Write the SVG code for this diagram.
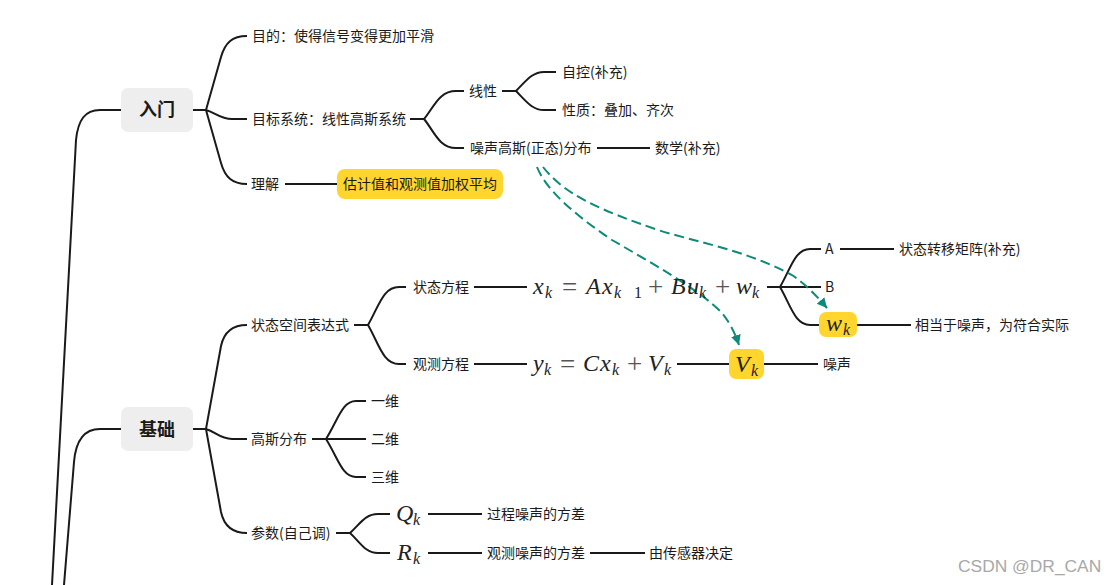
<svg xmlns="http://www.w3.org/2000/svg" width="1115" height="585" viewBox="0 0 1115 585">
<style>
text{font-family:"Noto Sans CJK SC","Liberation Sans",sans-serif;font-size:14px;fill:#1a1a1a}
.main{font-size:18px;font-weight:700;text-anchor:middle}
.m{font-family:"Liberation Serif",serif;font-style:italic;font-size:24px;fill:#222}
.s{font-family:"Liberation Serif",serif;font-style:italic;font-size:16px;fill:#222}
.o{font-family:"Liberation Serif",serif;font-size:27px;fill:#555}
.n{font-family:"Liberation Serif",serif;font-size:16px;fill:#222}
.l{fill:none;stroke:#1a1a1a;stroke-width:2}
.d{fill:none;stroke:#0d8a78;stroke-width:2;stroke-dasharray:10 5}
.bg{fill:#eee}
.y{fill:#ffd52e}
.wm{font-family:"Liberation Sans",sans-serif;font-size:17.4px;fill:#a8a8a8}
</style>
<defs>
<marker id="arrow" markerUnits="userSpaceOnUse" markerWidth="12" markerHeight="12" refX="10" refY="5" orient="auto"><path d="M0 0L10 5L0 10Z" fill="#0d8a78"/></marker>
</defs>
<rect width="1115" height="585" fill="#fff"/>
<g id="connectors">
<path class="l" d="M121 110H100C85 110 78 120 76 140L52 585"/>
<path class="l" d="M121 429H100C86 429 76 438 74 462L64 585"/>
<path class="l" d="M193 110H206L221 57C225 43 232 36 247 36M206 110C216 113 220 119 232 119H247M206 110L221 163C225 177 232 184 247 184"/>
<path class="l" d="M410 119H424C434 107 439 91 456 91H464M424 119C434 131 439 148 456 148H464"/>
<path class="l" d="M502 91H516C526 81 532 72 544 72H556M516 91C526 101 532 110 544 110H556"/>
<path class="l" d="M597 148H650M285 184H337"/>
<path class="l" d="M193 429H206L221 346C224 332 232 325 247 325M206 429C216 432 220 439 232 439H247M206 429L221 512C224 526 232 533 247 533"/>
<path class="l" d="M354 325H368C379 306 383 287 399 287H406M368 325C379 344 383 364 399 364H406"/>
<path class="l" d="M474 287H527M474 364H527M677 364H729M764 364H818"/>
<path class="l" d="M767 287H780C791 268 795 249 810 249H821M780 287H821M780 287C791 306 795 325 810 325H819"/>
<path class="l" d="M840 249H894M857 325H911"/>
<path class="l" d="M312 439H326C338 420 342 401 356 401H366M326 439H366M326 439C338 458 342 477 356 477H366"/>
<path class="l" d="M336 533H350C360 524 365 514 378 514H390M350 533C360 542 365 553 378 553H390"/>
<path class="l" d="M428 514H482M428 553H482M590 553H645"/>
<path class="d" marker-end="url(#arrow)" d="M537 167C546 190 575 215 612 240C650 262 700 290 722 313C730 323 735 333 739 345"/>
<path class="d" marker-end="url(#arrow)" d="M543 167C565 195 600 210 658 230C700 243 745 250 792 275C805 284 815 294 827 308"/>
</g>
<g id="n-rumen"><rect class="bg" x="121" y="88" width="72" height="44" rx="7"/><text class="main" x="157" y="116">入门</text></g>
<g id="n-mudi"><text x="252" y="41">目的：使得信号变得更加平滑</text></g>
<g id="n-mubiao"><text x="252" y="124">目标系统：线性高斯系统</text></g>
<g id="n-lijie"><text x="251" y="189">理解</text></g>
<g id="n-gujizhi"><rect class="y" x="337" y="169" width="166" height="30" rx="8"/><text x="343" y="189">估计值和观测值加权平均</text></g>
<g id="n-xianxing"><text x="469" y="96">线性</text></g>
<g id="n-zaosheng"><text x="470" y="153">噪声高斯(正态)分布</text></g>
<g id="n-zikong"><text x="562" y="77">自控(补充)</text></g>
<g id="n-xingzhi"><text x="562" y="115">性质：叠加、齐次</text></g>
<g id="n-shuxue"><text x="655" y="153">数学(补充)</text></g>
<g id="n-jichu"><rect class="bg" x="121" y="407" width="72" height="44" rx="7"/><text class="main" x="157" y="436">基础</text></g>
<g id="n-zhuangtai"><text x="251" y="330">状态空间表达式</text></g>
<g id="n-gaosi"><text x="251" y="444">高斯分布</text></g>
<g id="n-canshu"><text x="251" y="538">参数(自己调)</text></g>
<g id="n-zhuangtaifc"><text x="413" y="292">状态方程</text></g>
<g id="n-guance"><text x="413" y="369">观测方程</text></g>
<g id="n-xeq"><text class="m" x="533" y="294">x</text><text class="s" x="545" y="298">k</text><text class="o" x="562" y="296">=</text><text class="m" x="586" y="294">A</text><text class="m" x="602" y="294">x</text><text class="s" x="614" y="298">k</text><text class="n" x="634" y="298">1</text><text class="o" x="648" y="296">+</text><text class="m" x="671" y="294">B</text><text class="m" x="687" y="294">u</text><text class="s" x="699" y="298">k</text><text class="o" x="715" y="296">+</text><text class="m" x="736" y="294">w</text><text class="s" x="752" y="298">k</text></g>
<g id="n-yeq"><text class="m" x="533" y="371">y</text><text class="s" x="544" y="375">k</text><text class="o" x="560" y="373">=</text><text class="m" x="583" y="371">C</text><text class="m" x="600" y="371">x</text><text class="s" x="612" y="375">k</text><text class="o" x="627" y="373">+</text><text class="m" x="648" y="371">V</text><text class="s" x="664" y="375">k</text></g>
<g id="n-vk"><rect class="y" x="729" y="349" width="35" height="30" rx="7"/><text class="m" x="735" y="372">V</text><text class="s" x="751" y="376">k</text></g>
<g id="n-wk"><rect class="y" x="819" y="312" width="38" height="25" rx="7"/><text class="m" x="826" y="331">w</text><text class="s" x="843" y="335">k</text></g>
<g id="n-noise"><text x="823" y="369">噪声</text></g>
<g id="n-a"><text x="825" y="254">A</text></g>
<g id="n-b"><text x="825" y="292">B</text></g>
<g id="n-zyjz"><text x="899" y="254">状态转移矩阵(补充)</text></g>
<g id="n-xiangdang"><text x="915" y="330">相当于噪声，为符合实际</text></g>
<g id="n-1d"><text x="371" y="406">一维</text></g>
<g id="n-2d"><text x="371" y="444">二维</text></g>
<g id="n-3d"><text x="371" y="482">三维</text></g>
<g id="n-qk"><text class="m" x="396" y="521">Q</text><text class="s" x="413" y="525">k</text></g>
<g id="n-rk"><text class="m" x="397" y="560">R</text><text class="s" x="413" y="564">k</text></g>
<g id="n-guocheng"><text x="487" y="519">过程噪声的方差</text></g>
<g id="n-guance2"><text x="487" y="558">观测噪声的方差</text></g>
<g id="n-chuanganqi"><text x="649" y="558">由传感器决定</text></g>
<text class="wm" x="958" y="572">CSDN @DR_CAN</text>
</svg>
